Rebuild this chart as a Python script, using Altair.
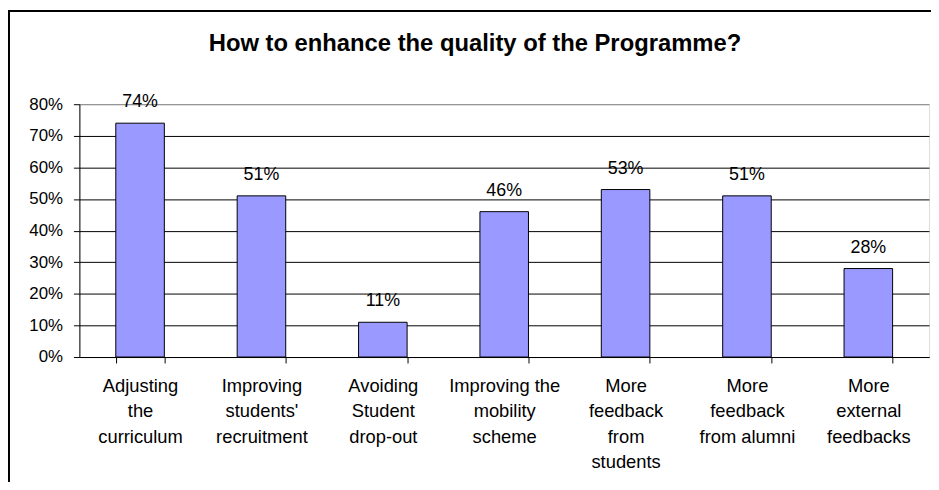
import altair as alt
import pandas as pd

categories = [
    "Adjusting\nthe\ncurriculum",
    "Improving\nstudents'\nrecruitment",
    "Avoiding\nStudent\ndrop-out",
    "Improving the\nmobility\nscheme",
    "More\nfeedback\nfrom\nstudents",
    "More\nfeedback\nfrom alumni",
    "More\nexternal\nfeedbacks",
]
values = [0.74, 0.51, 0.11, 0.46, 0.53, 0.51, 0.28]
value_labels = ["74%", "51%", "11%", "46%", "53%", "51%", "28%"]
y_ticks = [0, 0.1, 0.2, 0.3, 0.4, 0.5, 0.6, 0.7, 0.8]
title_text = "How to enhance the quality of the Programme?"

df = pd.DataFrame({"cat": categories, "value": values, "label": value_labels})

W, H = 857, 255
FONT = "Liberation Sans"

x_enc = alt.X(
    "cat:N",
    sort=None,
    title=None,
    scale=alt.Scale(paddingInner=0.6, paddingOuter=0.3),
    axis=alt.Axis(
        labelAngle=0,
        labelExpr="split(datum.label, '\\n')",
        tickBand="extent",
        labelFont=FONT,
        labelFontSize=18.5,
        labelColor="black",
        labelLineHeight=25.5,
        labelPadding=14,
        labelBaseline="top",
        tickSize=6,
        tickColor="black",
        domainColor="black",
        grid=False,
        labelLimit=200,
    ),
)

y_enc = alt.Y(
    "value:Q",
    title=None,
    scale=alt.Scale(domain=[0, 0.8], nice=False),
    axis=alt.Axis(
        values=y_ticks,
        format=".0%",
        labelFont=FONT,
        labelFontSize=17,
        labelColor="black",
        labelPadding=11,
        tickSize=6,
        tickColor="black",
        domainColor="black",
        grid=True,
        gridColor={"condition": {"test": "datum.value >= 0.8", "value": "#808080"}, "value": "black"},
        gridOpacity=1,
    ),
)

base = alt.Chart(df).encode(x=x_enc, y=y_enc)

bars = base.mark_bar(color="#9999FF", stroke="black", strokeWidth=1)
texts = base.mark_text(
    font=FONT, fontSize=18, color="black", baseline="alphabetic", dy=-16
).encode(text="label:N")

frame_df = pd.DataFrame({"a": [0]})
left_border = alt.Chart(frame_df).mark_rule(color="black", strokeWidth=2).encode(
    x=alt.value(-71), y=alt.value(-94), y2=alt.value(H + 130)
)
top_border = alt.Chart(frame_df).mark_rule(color="black", strokeWidth=2).encode(
    x=alt.value(-72), x2=alt.value(W + 10), y=alt.value(-94)
)

title_df = pd.DataFrame({"t": [title_text]})
title_mark = alt.Chart(title_df).mark_text(
    font=FONT, fontSize=24, fontWeight="bold", color="black",
    align="center", baseline="alphabetic",
).encode(text="t:N", x=alt.value(399), y=alt.value(-54))

chart = alt.layer(bars, texts, left_border, top_border, title_mark).properties(
    width=W,
    height=H,
    autosize=alt.AutoSizeParams(type="none"),
    padding={"left": 72, "top": 95, "right": 2, "bottom": 124},
).configure_view(
    fill="#C0C0C0", stroke="#808080", strokeWidth=1
).configure(background="white")

chart.save("out.html", embed_options={"renderer": "svg", "actions": False})
